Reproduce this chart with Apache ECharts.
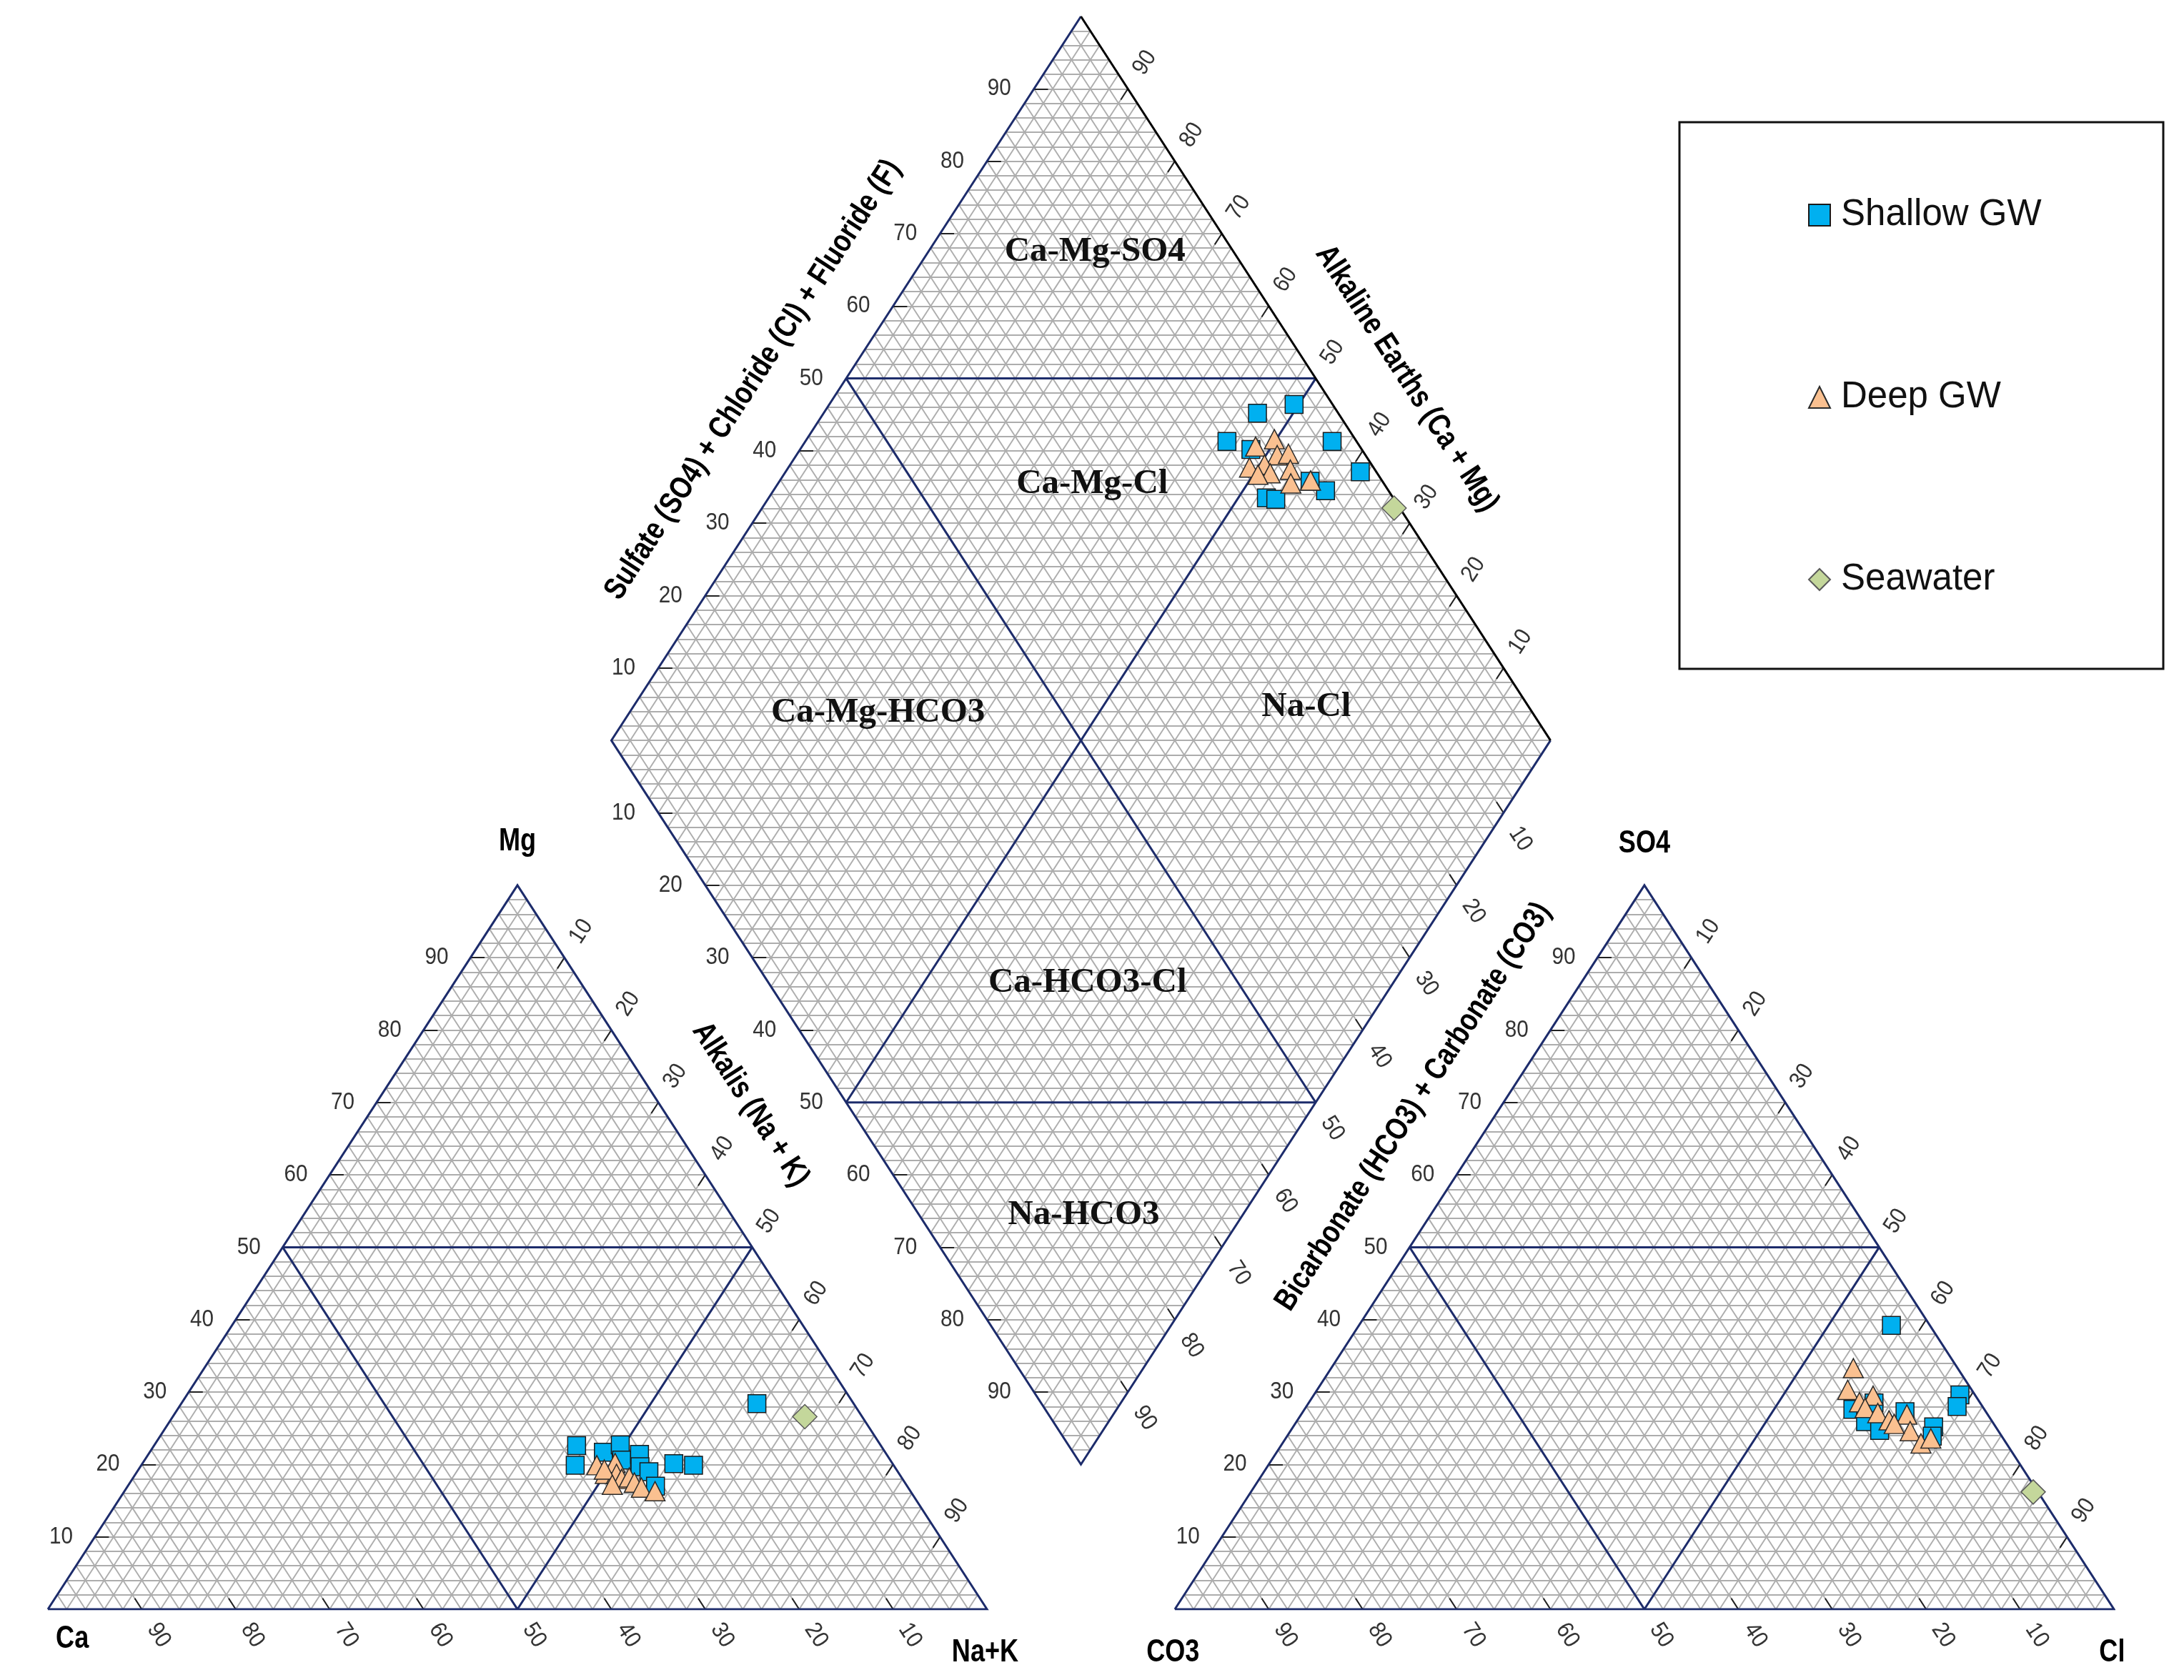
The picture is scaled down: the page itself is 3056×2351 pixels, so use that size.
<!DOCTYPE html>
<html><head><meta charset="utf-8">
<style>html,body{margin:0;padding:0;background:#fff}#c{width:3056px;height:2351px}</style>
<script src="https://cdn.jsdelivr.net/npm/echarts@6.0.0/dist/echarts.min.js"></script>
</head><body><div id="c"></div><script>
// ================= DATA =================
const seriesNames = ['Shallow GW', 'Deep GW', 'Seawater'];
const tickValues = [10, 20, 30, 40, 50, 60, 70, 80, 90];
// Cation triangle: [Mg %, Na+K %]
const shallowCations = [[22.6,45.0],[19.9,46.2],[21.7,48.3],[22.7,49.6],[20.6,50.8],[21.4,52.3],[19.7,53.2],[19.0,54.5],[17.0,56.2],[20.1,56.6],[19.9,58.8],[28.4,61.3]];
const deepCations = [[19.9,48.5],[18.7,50.0],[20.2,50.3],[18.7,51.2],[18.0,52.1],[18.2,52.8],[17.5,53.7],[16.8,54.8],[16.3,56.5],[19.3,49.6],[17.2,51.5]];
const seaCations = [[26.6,67.3]];
// Anion triangle: [SO4 %, Cl %]
const shallowAnions = [[39.2,56.7],[29.6,68.8],[28.0,69.3],[25.2,68.2],[27.6,58.4],[25.9,60.6],[24.7,62.7],[27.3,64.1],[28.5,60.2],[23.9,68.7]];
const deepAnions = [[33.3,55.6],[30.3,56.5],[29.5,59.6],[28.6,58.6],[27.8,59.6],[27.1,61.3],[26.1,63.0],[26.9,64.5],[24.6,66.0],[22.9,68.0],[23.6,68.7],[25.6,63.8]];
const seaAnions = [[16.2,83.3]];
// Diamond: [Na+K %, SO4+Cl %]
const shallowDiamond = [[46.2,91.4],[49.5,95.9],[44.9,86.2],[56.1,97.4],[61.2,98.3],[58.8,93.3],[53.0,86.5],[54.1,87.4],[56.5,92.3],[48.0,88.2]];
const deepDiamond = [[48.3,88.9],[49.8,91.4],[51.2,90.6],[52.3,91.9],[50.5,88.6],[53.6,91.0],[49.1,86.8],[51.7,88.6],[54.6,90.1],[56.5,92.4],[50.5,87.2]];
const seaDiamond = [[67.3,99.4]];
const regionNames = ['Ca-Mg-SO4','Ca-Mg-Cl','Ca-Mg-HCO3','Na-Cl','Ca-HCO3-Cl','Na-HCO3'];

// ================= GEOMETRY (ternary -> plot units) =================
const GAP = 20;
function cat(mg, nak) { return [nak + mg / 2, mg]; }
function an(so4, cl) { return [100 + GAP + cl + so4 / 2, so4]; }
function dia(nak, scl) { return [60 + (nak + scl) / 2, 120 + scl - nak]; }
function add(p, d) { return [p[0] + d[0], p[1] + d[1]]; }

const gray = [], navy = [], black = [], ticks = [];
for (let k = 2; k < 100; k += 2) {
  for (const f of [cat, an]) {
    gray.push({coords: [f(k, 0), f(k, 100 - k)]});
    gray.push({coords: [f(0, k), f(100 - k, k)]});
    gray.push({coords: [f(0, 100 - k), f(100 - k, 0)]});
  }
  gray.push({coords: [dia(0, k), dia(100, k)]});
  gray.push({coords: [dia(k, 0), dia(k, 100)]});
}
for (let j = -98; j <= 98; j += 2) {
  if (j >= 0) gray.push({coords: [dia(0, j), dia(100 - j, 100)]});
  else gray.push({coords: [dia(-j, 0), dia(100, 100 + j)]});
}
for (const f of [cat, an]) {
  navy.push({coords: [f(0, 0), f(100, 0), f(0, 100), f(0, 0)]});
  navy.push({coords: [f(50, 0), f(50, 50)]});
  navy.push({coords: [f(50, 0), f(0, 50)]});
  navy.push({coords: [f(50, 50), f(0, 50)]});
}
navy.push({coords: [dia(0, 100), dia(0, 0), dia(100, 0), dia(100, 100)]});
black.push({coords: [dia(0, 100), dia(100, 100)]});
navy.push({coords: [dia(0, 50), dia(100, 50)]});
navy.push({coords: [dia(50, 0), dia(50, 100)]});
navy.push({coords: [dia(0, 50), dia(50, 100)]});
navy.push({coords: [dia(50, 0), dia(100, 50)]});

const T = 1.5;
for (const k of tickValues) {
  for (const f of [cat, an]) {
    ticks.push({coords: [f(k, 0), f(k, T)]});
    ticks.push({coords: [f(100 - k, k), f(100 - k - T, k)]});
    ticks.push({coords: [f(0, 100 - k), f(T, 100 - k - T)]});
  }
  ticks.push({coords: [dia(0, k), dia(T, k + T)]});
  ticks.push({coords: [dia(k, 0), dia(k + T, T)]});
  ticks.push({coords: [dia(100 - k, 100), dia(100 - k, 100 - T)]});
  ticks.push({coords: [dia(100, 100 - k), dia(100 - T, 100 - k)]});
}

function pts(c, a, d) {
  return [...c.map(p => cat(p[0], p[1])), ...a.map(p => an(p[0], p[1])), ...d.map(p => dia(p[0], p[1]))];
}

const chart = echarts.init(document.getElementById('c'), null, {renderer: 'canvas'});
const lineSeries = (data, color, width, z, poly) => ({
  type: 'lines', coordinateSystem: 'cartesian2d', polyline: !!poly, silent: true, z: z,
  lineStyle: {color: color, width: width, opacity: 1}, data: data, animation: false
});
const option = {
  backgroundColor: '#fff',
  animation: false,
  grid: {left: 67, top: 23, width: 2891, height: 2229, containLabel: false},
  xAxis: {type: 'value', min: 0, max: 220, show: false},
  yAxis: {type: 'value', min: 0, max: 220, show: false},
  legend: {
    orient: 'vertical', left: 2525, top: 266, itemGap: 195, itemWidth: 30, itemHeight: 30,
    selectedMode: false, data: seriesNames,
    textStyle: {fontSize: 51, fontFamily: 'Liberation Sans', color: '#111', lineHeight: 60, padding: [0, 0, 0, 10]}
  },
  series: [
    lineSeries(gray, '#adadad', 1.9, 1, false),
    lineSeries(ticks, '#222', 2, 2, false),
    lineSeries(navy, '#1d2c6b', 3, 3, true),
    lineSeries(black, '#000', 3, 3, true),
    {name: seriesNames[0], type: 'scatter', symbol: 'rect', symbolSize: 25, z: 5,
     itemStyle: {color: '#00b0f0', borderColor: '#1a1a1a', borderWidth: 1.5, opacity: 1},
     data: pts(shallowCations, shallowAnions, shallowDiamond)},
    {name: seriesNames[1], type: 'scatter', symbol: 'triangle', symbolSize: [28, 27], z: 6,
     itemStyle: {color: '#fac090', borderColor: '#2a2a2a', borderWidth: 1.5, opacity: 1},
     data: pts(deepCations, deepAnions, deepDiamond)},
    {name: seriesNames[2], type: 'scatter', symbol: 'diamond', symbolSize: 34, z: 7,
     itemStyle: {color: '#c4d79b', borderColor: '#5a5a5a', borderWidth: 1.5, opacity: 1},
     data: pts(seaCations, seaAnions, seaDiamond)}
  ]
};
chart.setOption(option);

// ================= TEXT =================
const P = p => chart.convertToPixel({gridIndex: 0}, p);
const deg = Math.PI / 180, ANG = 57;
function txt(text, p, o) {
  const q = P(p);
  return {type: 'text', x: q[0], y: q[1], rotation: (o.rot || 0) * deg, scaleX: o.sx || 1, z: 100, silent: true,
    style: {text: text, font: o.font, fill: o.color || '#000', align: 'center', verticalAlign: 'middle',
            textAlign: 'center', textVerticalAlign: 'middle'}};
}
const TF = {font: '33px "Liberation Sans"', sx: 0.9, color: '#333'};
const up = [1.8, 3.6], down = [1.8, -3.6], left = [-3.6, 0];
const g = [];
for (const k of tickValues) {
  const s = String(k);
  for (const f of [cat, an]) {
    g.push(txt(s, add(f(k, 0), left), TF));
    g.push(txt(s, add(f(100 - k, k), up), Object.assign({rot: ANG}, TF)));
    g.push(txt(s, add(f(0, 100 - k), down), Object.assign({rot: -ANG}, TF)));
  }
  g.push(txt(s, add(dia(0, k), [-3.7, 0]), TF));
  g.push(txt(s, add(dia(k, 0), [-3.7, 0]), TF));
  g.push(txt(s, add(dia(100 - k, 100), up), Object.assign({rot: ANG}, TF)));
  g.push(txt(s, add(dia(100, 100 - k), down), Object.assign({rot: -ANG}, TF)));
}
const BF = {font: 'bold 44px "Liberation Sans"', sx: 0.82, color: '#000'};
g.push(txt('Mg', [50, 106], BF));
g.push(txt('Ca', [2.6, -4.1], BF));
g.push(txt('Na+K', [99.8, -6.0], BF));
g.push(txt('SO4', [170, 105.7], BF));
g.push(txt('CO3', [119.8, -6.0], BF));
g.push(txt('Cl', [219.8, -6.0], BF));
g.push(txt('Alkalis (Na + K)', [74.8, 69.7], Object.assign({}, BF, {rot: -ANG})));
g.push(txt('Sulfate (SO4) + Chloride (Cl) + Fluoride (F)', [75.1, 169.8], Object.assign({}, BF, {rot: ANG})));
g.push(txt('Alkaline Earths (Ca + Mg)', [144.7, 170.0], Object.assign({}, BF, {rot: -ANG})));
g.push(txt('Bicarbonate (HCO3) + Carbonate (CO3)', [145.4, 69.4], Object.assign({}, BF, {rot: ANG})));
const regionPos = [[111.5, 187.5], [111.2, 155.4], [88.4, 123.8], [134.0, 124.6], [110.7, 86.5], [110.3, 54.4]];
const RF = {font: 'bold 49px "Liberation Serif"', color: '#111'};
regionNames.forEach((n, i) => g.push(txt(n, regionPos[i], RF)));
g.push({type: 'rect', z: 90, silent: true, shape: {x: 2350, y: 171, width: 677, height: 765},
        style: {fill: 'none', stroke: '#111', lineWidth: 3}});
chart.setOption({graphic: {elements: g}});
</script></body></html>
